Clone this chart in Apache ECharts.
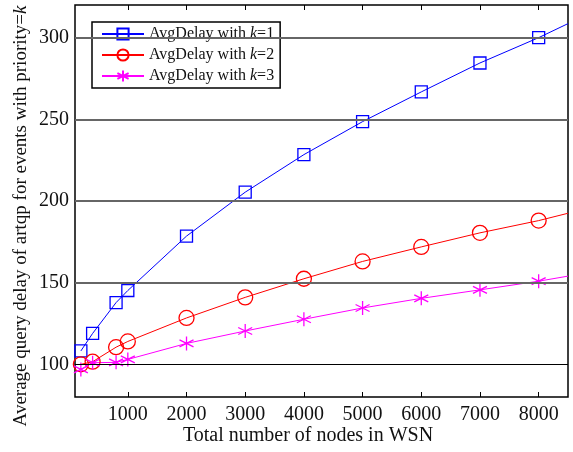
<!DOCTYPE html>
<html>
<head>
<meta charset="utf-8">
<script src="https://cdn.jsdelivr.net/npm/echarts@6/dist/echarts.min.js"></script>
<style>
  html, body { margin: 0; padding: 0; background: #fff; }
  #chart { width: 573px; height: 452px; }
</style>
</head>
<body>
<div id="chart"></div>
<script>
// Number of nodes in the network (x positions of the markers)
const nodeCounts = [200, 400, 800, 1000, 2000, 3000, 4000, 5000, 6000, 7000, 8000];
// Average query delay for each priority level k
const delayK1 = [108.2, 118.9, 137.8, 145.2, 178.5, 205.4, 228.4, 248.6, 266.8, 284.5, 300.0];
const delayK2 = [100.0, 101.6, 110.5, 114.0, 128.4, 141.0, 152.4, 163.0, 171.9, 180.5, 188.0];
const delayK3 = [96.9, 101.0, 101.2, 103.0, 112.8, 120.4, 127.6, 134.5, 140.4, 145.6, 150.9];
// Where each curve leaves the plot at the right edge
const edgeNodes = 8500;
const edgeDelay = [308.6, 192.5, 154.0];

const seriesNames = ['AvgDelay with k=1', 'AvgDelay with k=2', 'AvgDelay with k=3'];
const xTicks = [1000, 2000, 3000, 4000, 5000, 6000, 7000, 8000];
const yTicks = [100, 150, 200, 250, 300];

const FONT = '"Liberation Serif", "Times New Roman", serif';

function buildData(values, tail) {
  const pts = nodeCounts.map((n, i) => [n, values[i]]);
  pts.push({ value: [edgeNodes, tail], symbol: 'none' });
  return pts;
}

const asterisk = 'path://M5,0L5,10M0.7,2.5L9.3,7.5M0.7,7.5L9.3,2.5';

const chart = echarts.init(document.getElementById('chart'), null, { renderer: 'canvas' });

chart.setOption({
  backgroundColor: '#fff',
  animation: false,
  grid: {
    left: 75, right: 5, top: 5, bottom: 55,
    show: true, borderColor: '#000', borderWidth: 1.5, backgroundColor: '#fff'
  },
  xAxis: [{
    type: 'value', min: 100, max: edgeNodes, position: 'bottom',
    axisLine: { show: false },
    axisTick: { show: true, inside: true, length: 5, customValues: xTicks, lineStyle: { color: '#000', width: 1 } },
    axisLabel: { customValues: xTicks, formatter: v => String(v), color: '#111', fontFamily: FONT, fontSize: 20, margin: 8 },
    splitLine: { show: false }
  }, {
    type: 'value', min: 100, max: edgeNodes, position: 'top',
    axisLine: { show: false },
    axisTick: { show: true, inside: true, length: 5, customValues: xTicks, lineStyle: { color: '#000', width: 1 } },
    axisLabel: { show: false },
    splitLine: { show: false }
  }],
  yAxis: {
    type: 'value', min: 80, max: 320,
    axisLine: { show: false },
    axisTick: { show: true, inside: true, length: 5, customValues: yTicks, lineStyle: { color: '#000' } },
    axisLabel: { customValues: yTicks, formatter: v => String(v), color: '#111', fontFamily: FONT, fontSize: 20, margin: 6 },
    splitLine: { show: false }
  },
  legend: {
    orient: 'vertical', left: 92, top: 22,
    padding: [4, 6, 4, 9], itemGap: 5, itemWidth: 42, itemHeight: 14,
    backgroundColor: '#fff', borderColor: '#000', borderWidth: 1.5, borderRadius: 0,
    data: seriesNames,
    formatter: name => name.replace('k=', '{i|k}='),
    textStyle: {
      fontFamily: FONT, fontSize: 16, color: '#111',
      rich: { i: { fontFamily: FONT, fontSize: 16, fontStyle: 'italic', color: '#111' } }
    }
  },
  graphic: [{
    type: 'text', x: 308, y: 436,
    style: { text: 'Total number of nodes in WSN', font: '20px ' + FONT, fill: '#111', align: 'center', verticalAlign: 'middle' }
  }, {
    type: 'text', x: 21, y: 216, rotation: Math.PI / 2,
    style: {
      text: 'Average query delay of artqp for events with priority={i|k}',
      font: '19px ' + FONT, fill: '#111', align: 'center', verticalAlign: 'middle',
      rich: { i: { font: 'italic 19px ' + FONT, fill: '#111' } }
    }
  }],
  series: [{
    // horizontal reference lines at the labelled delay values
    type: 'line', data: [], silent: true,
    markLine: {
      silent: true, symbol: 'none', label: { show: false }, animation: false,
      data: yTicks.map(v => ({
        yAxis: v,
        lineStyle: v === 100 ? { color: '#000', width: 1.2, type: 'solid' } : { color: '#666', width: 2, type: 'solid' }
      }))
    }
  }, {
    name: seriesNames[0], type: 'line', data: buildData(delayK1, edgeDelay[0]),
    symbol: 'rect', symbolSize: 12,
    lineStyle: { color: '#0000ff', width: 1 },
    itemStyle: { color: 'rgba(255,255,255,0)', borderColor: '#0000ff', borderWidth: 1.3 }
  }, {
    name: seriesNames[1], type: 'line', data: buildData(delayK2, edgeDelay[1]),
    symbol: 'circle', symbolSize: 15,
    lineStyle: { color: '#ff0000', width: 1 },
    itemStyle: { color: 'rgba(255,255,255,0)', borderColor: '#ff0000', borderWidth: 1.3 }
  }, {
    name: seriesNames[2], type: 'line', data: buildData(delayK3, edgeDelay[2]),
    symbol: asterisk, symbolSize: 14,
    lineStyle: { color: '#ff00ff', width: 1 },
    itemStyle: { color: '#ff00ff', borderColor: '#ff00ff', borderWidth: 1.3 }
  }]
});
</script>
</body>
</html>
